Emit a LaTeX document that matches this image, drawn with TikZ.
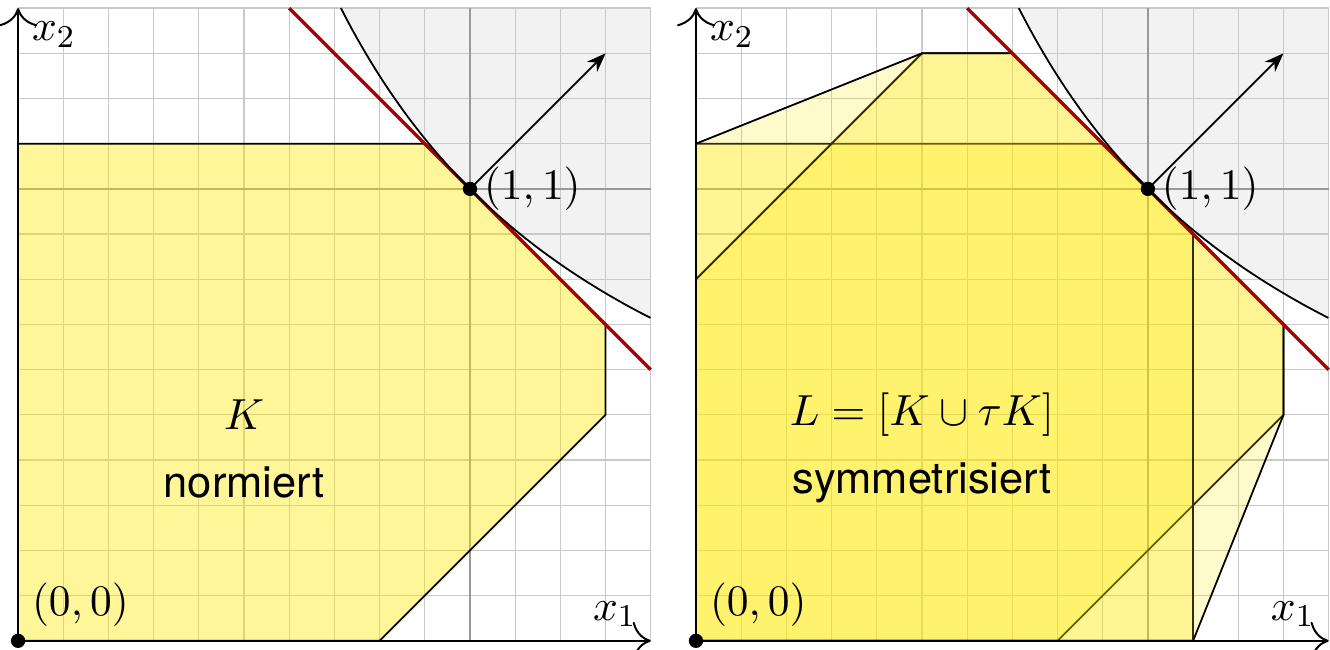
\documentclass[tikz,border=0pt]{standalone}
\usepackage{fontspec}
\setsansfont{TeX Gyre Heros}
\usetikzlibrary{arrows.meta, calc}
\definecolor{gelb}{RGB}{255,232,0}
\definecolor{tangentenrot}{RGB}{170,0,0}

\begin{document}
\begin{tikzpicture}[x=4cm, y=4cm, >={To[length=1.6mm]},
  every node/.style={font=\fontsize{10.95}{13}\selectfont},
  gitter/.style={gray!42, line width=0.3pt},
  achse/.style={->, line width=0.5pt},
  menge/.style={fill=gelb, draw=black, line width=0.45pt},
  tangente/.style={tangentenrot, line width=0.85pt},
  hyperbel/.style={domain=0.7143:1.4, samples=60},
  wort/.style={font=\sffamily\fontsize{10.95}{13}\selectfont}]
  \useasboundingbox (-0.04,-0.02) rectangle (2.903,1.418);
  \foreach \dx/\p in {0/a, 1.5/b} {
    \begin{scope}[shift={(\dx,0)}]
      \fill[black!5] plot[hyperbel] (\x,{1/\x}) -- (1.4,1.4) -- cycle;
      \draw[gitter] (0,0) grid[step=0.1] (1.401,1.401);
      \draw[gray!80, line width=0.4pt] (1,0) -- (1,1.4) (0,1) -- (1.4,1);
    \end{scope}
  }
  \filldraw[menge, fill opacity=0.4] (0,0) -- (0.8,0) -- (1.3,0.5) -- (1.3,0.7) -- (0.9,1.1) -- (0,1.1) -- cycle;
  \begin{scope}[shift={(1.5,0)}]
    \filldraw[menge, fill opacity=0.27] (0,0) -- (0.8,0) -- (1.3,0.5) -- (1.3,0.7) -- (0.9,1.1) -- (0,1.1) -- cycle;
    \filldraw[menge, fill opacity=0.27] (0,0) -- (1.1,0) -- (1.1,0.9) -- (0.7,1.3) -- (0.5,1.3) -- (0,0.8) -- cycle;
    \filldraw[menge, fill opacity=0.2] (0,0) -- (1.1,0) -- (1.3,0.5) -- (1.3,0.7) -- (0.7,1.3) -- (0.5,1.3) -- (0,1.1) -- cycle;
  \end{scope}
  \foreach \dx/\p in {0/a, 1.5/b} {
    \begin{scope}[shift={(\dx,0)}]
      \draw[tangente] (0.6,1.4) -- (1.4,0.6);
      \draw[line width=0.45pt] plot[hyperbel] (\x,{1/\x});
      \coordinate (o\p) at (0,0);
      \coordinate (e1\p) at (1.4,0);
      \coordinate (e2\p) at (0,1.4);
      \coordinate (p\p) at (1,1);
      \coordinate (n\p) at (1.3,1.3);
      \draw[achse] (o\p) -- (e1\p);
      \draw[achse] (o\p) -- (e2\p);
      \draw[-{Stealth[length=1.7mm]}, line width=0.45pt] (p\p) -- (n\p);
      \fill (o\p) circle (1.8pt) (p\p) circle (1.8pt);
      \node[above left] (x1\p) at (e1\p) {$x_1$};
      \node[below right] (x2\p) at (e2\p) {$x_2$};
      \node[above right] (null\p) at (o\p) {$(0,0)$};
      \node[right] (eins\p) at (p\p) {$(1,1)$};
    \end{scope}
  }
  \node (K) at (0.5,0.5) {$K$};
  \node[wort] (normiert) at (0.5,0.35) {normiert};
  \node (L) at (2.0,0.5) {$L=[K\cup\tau K]$};
  \node[wort] (symm) at (2.0,0.35) {symmetrisiert};
\end{tikzpicture}
\end{document}
